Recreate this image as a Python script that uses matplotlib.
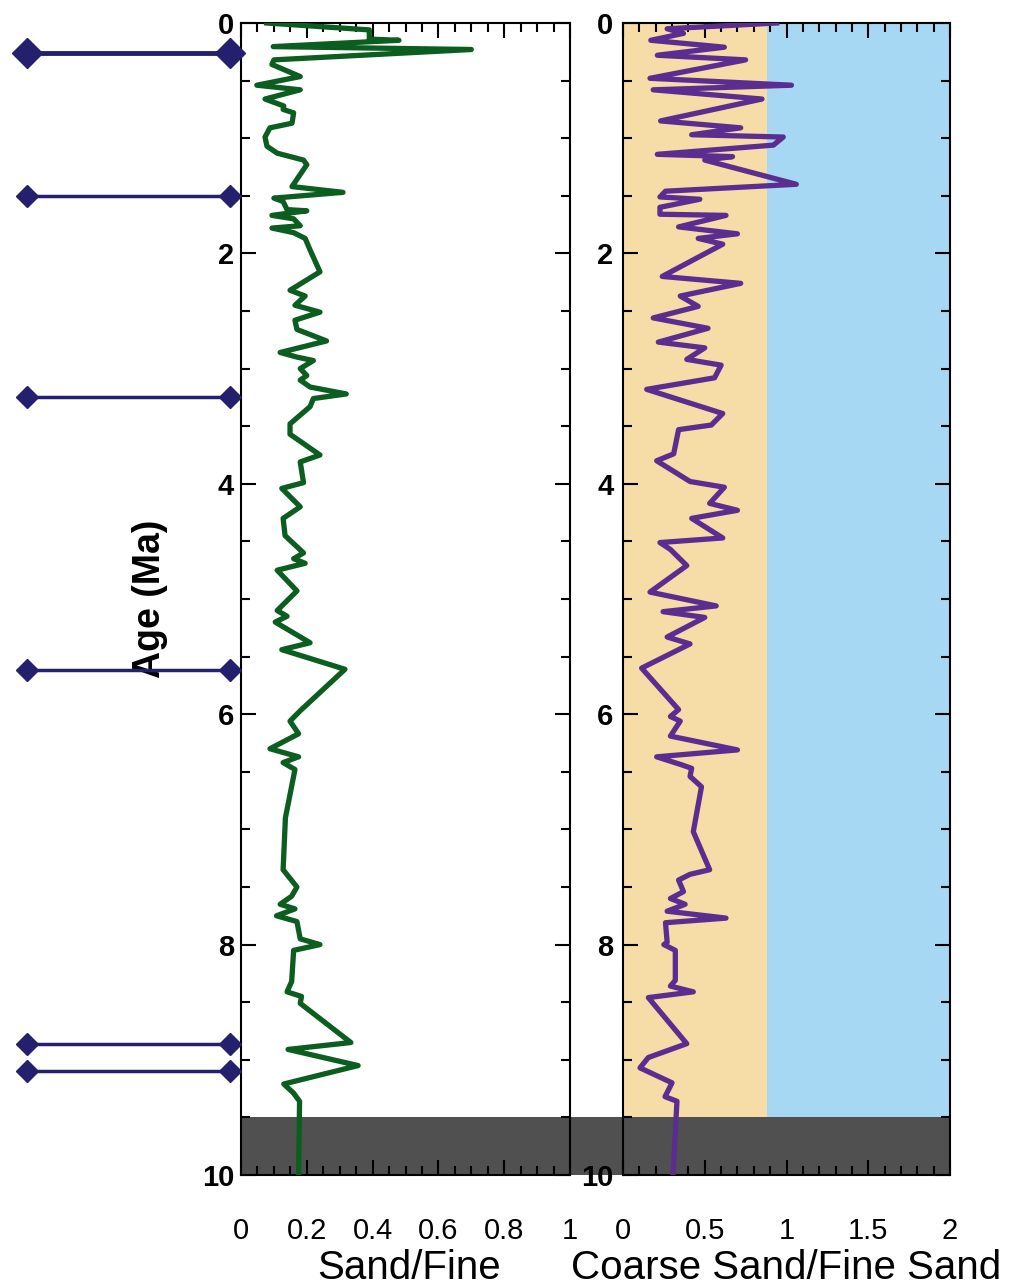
"""Sand/Fine and Coarse Sand/Fine Sand ratios against age (Ma)."""

from __future__ import annotations

import matplotlib

matplotlib.use("Agg")
import matplotlib.pyplot as plt
from matplotlib.patches import Rectangle
from matplotlib.ticker import MultipleLocator
from matplotlib.transforms import blended_transform_factory

# Sand/Fine ratio
sand_age = [
    0.00, 0.06, 0.14, 0.15, 0.205, 0.23, 0.32, 0.36, 0.465, 0.54, 0.58, 0.66,
    0.72, 0.75, 0.78, 0.87, 0.91, 0.99, 1.07, 1.13, 1.16, 1.19, 1.23, 1.42,
    1.47, 1.52, 1.55, 1.62, 1.63, 1.67, 1.70, 1.76, 1.78, 1.82, 1.87, 1.97,
    2.16, 2.32, 2.37, 2.45, 2.51, 2.58, 2.66, 2.76, 2.86, 2.90, 2.93, 3.00,
    3.06, 3.10, 3.16, 3.22, 3.26, 3.33, 3.48, 3.57, 3.75, 3.81, 3.99, 4.04,
    4.20, 4.30, 4.45, 4.60, 4.65, 4.69, 4.75, 4.93, 5.10, 5.15, 5.20, 5.38,
    5.44, 5.61, 5.97, 6.06, 6.17, 6.30, 6.37, 6.42, 6.48, 6.90, 7.35, 7.50,
    7.58, 7.65, 7.69, 7.75, 7.80, 7.95, 8.00, 8.05, 8.32, 8.41, 8.45, 8.51,
    8.85, 8.91, 9.05, 9.21, 9.29, 9.36, 10.0,
]
sand_fine = [
    0.078, 0.39, 0.39, 0.48, 0.098, 0.70, 0.10, 0.094, 0.18, 0.048, 0.18, 0.073,
    0.13, 0.128, 0.16, 0.155, 0.088, 0.073, 0.079, 0.11, 0.15, 0.19, 0.20, 0.155,
    0.31, 0.10, 0.128, 0.14, 0.20, 0.094, 0.16, 0.18, 0.094, 0.16, 0.195, 0.21,
    0.24, 0.149, 0.195, 0.164, 0.24, 0.164, 0.17, 0.26, 0.119, 0.17, 0.22, 0.18,
    0.20, 0.18, 0.21, 0.32, 0.22, 0.21, 0.149, 0.149, 0.24, 0.18, 0.19, 0.124,
    0.18, 0.128, 0.134, 0.19, 0.16, 0.195, 0.11, 0.17, 0.11, 0.14, 0.104, 0.21,
    0.124, 0.316, 0.18, 0.149, 0.175, 0.088, 0.175, 0.128, 0.164, 0.135, 0.128, 0.17,
    0.154, 0.119, 0.164, 0.108, 0.17, 0.18, 0.24, 0.16, 0.154, 0.14, 0.184, 0.18,
    0.334, 0.143, 0.356, 0.13, 0.16, 0.178, 0.175,
]

# Coarse Sand/Fine Sand ratio
coarse_age = [
    0.00, 0.05, 0.09, 0.15, 0.21, 0.28, 0.32, 0.48, 0.54, 0.58, 0.66, 0.85,
    0.91, 0.97, 0.99, 1.06, 1.14, 1.16, 1.19, 1.40, 1.46, 1.51, 1.53, 1.60,
    1.66, 1.67, 1.77, 1.83, 1.87, 1.92, 2.20, 2.26, 2.37, 2.46, 2.56, 2.65,
    2.77, 2.82, 2.92, 2.97, 3.08, 3.18, 3.39, 3.49, 3.53, 3.74, 3.80, 3.98,
    4.03, 4.17, 4.23, 4.30, 4.47, 4.51, 4.57, 4.71, 4.94, 5.06, 5.11, 5.16,
    5.33, 5.39, 5.60, 5.96, 6.02, 6.06, 6.19, 6.31, 6.37, 6.44, 6.47, 6.54,
    6.63, 7.02, 7.35, 7.39, 7.44, 7.54, 7.60, 7.65, 7.71, 7.77, 7.81, 7.98,
    8.00, 8.05, 8.31, 8.36, 8.41, 8.46, 8.86, 8.98, 9.07, 9.20, 9.32, 9.36,
    10.0,
]
coarse_fine = [
    0.94, 0.27, 0.37, 0.17, 0.62, 0.21, 0.75, 0.165, 1.03, 0.185, 0.85, 0.23,
    0.72, 0.42, 0.98, 0.92, 0.21, 0.67, 0.50, 1.06, 0.26, 0.226, 0.47, 0.226,
    0.226, 0.63, 0.34, 0.70, 0.46, 0.61, 0.24, 0.72, 0.35, 0.46, 0.185, 0.52,
    0.216, 0.50, 0.39, 0.60, 0.56, 0.145, 0.61, 0.54, 0.34, 0.31, 0.206, 0.41,
    0.62, 0.53, 0.70, 0.42, 0.61, 0.226, 0.29, 0.39, 0.165, 0.57, 0.245, 0.50,
    0.27, 0.41, 0.114, 0.34, 0.29, 0.35, 0.29, 0.70, 0.206, 0.36, 0.42, 0.41,
    0.48, 0.43, 0.53, 0.41, 0.34, 0.37, 0.29, 0.38, 0.27, 0.63, 0.26, 0.27,
    0.25, 0.32, 0.32, 0.29, 0.43, 0.155, 0.39, 0.155, 0.104, 0.30, 0.257, 0.33,
    0.306,
]

# event horizons drawn to the left of the plot (Ma); the first one is drawn heavier
event_ages = [0.26, 1.50, 3.25, 5.62, 8.86, 9.10]

coarse_split = 0.88      # boundary between the two background bands
gap_top = 9.5            # start of the grey interval at the base

left_ticks = [0, 0.2, 0.4, 0.6, 0.8, 1]
left_ticklabels = ["0", "0.2", "0.4", "0.6", "0.8", "1"]
right_ticks = [0, 0.5, 1, 1.5, 2]
right_ticklabels = ["0", "0.5", "1", "1.5", "2"]
age_ticks = [0, 2, 4, 6, 8, 10]

GREEN = "#0b5e1f"
PURPLE = "#5b2d91"
NAVY = "#25206e"
SAND = "#f6dca6"
SKY = "#a6d8f4"
GREY = "#505050"

W, H = 1017, 1287


def _style(ax, xticks, xlabels, minor, pad_y):
    ax.set_ylim(10, 0)
    ax.set_yticks(age_ticks)
    ax.set_yticklabels([str(t) for t in age_ticks], fontsize=21, fontweight="bold")
    ax.yaxis.set_minor_locator(MultipleLocator(0.5))
    ax.set_xticks(xticks)
    ax.set_xticklabels(xlabels, fontsize=21)
    ax.xaxis.set_minor_locator(MultipleLocator(minor))
    ax.tick_params(which="both", direction="in", top=True, right=True, width=1.5, color="black")
    ax.tick_params(which="major", length=11)
    ax.tick_params(which="minor", length=6.5)
    ax.tick_params(axis="x", pad=30)
    ax.tick_params(axis="y", pad=pad_y)
    for s in ax.spines.values():
        s.set_linewidth(1.5)


def main() -> None:
    plt.rcParams["font.family"] = ["Liberation Sans", "DejaVu Sans"]
    fig = plt.figure(figsize=(W / 100, H / 100), dpi=100)

    bottom = (H - 1175) / H
    height = 1152 / H
    ax1 = fig.add_axes([241 / W, bottom, 329 / W, height])
    ax2 = fig.add_axes([623 / W, bottom, 327 / W, height])
    axm = fig.add_axes([0, bottom, 241 / W, height], zorder=5)

    # left panel: Sand/Fine
    ax1.set_xlim(0, 1)
    ax1.axhspan(gap_top, 10, color=GREY, zorder=1, lw=0)
    ax1.plot(sand_fine, sand_age, color=GREEN, lw=3.8, zorder=3)
    _style(ax1, left_ticks, left_ticklabels, 0.05, 5)
    ax1.set_xlabel("Sand/Fine", fontsize=29)
    ax1.xaxis.set_label_coords(0.51, -0.064)
    ax1.set_ylabel("Age (Ma)", fontsize=27, fontweight="bold")
    ax1.yaxis.set_label_coords(-0.222, 0.5)

    # grey interval continues across the gap between the panels
    tr = blended_transform_factory(ax1.transAxes, ax1.transData)
    ax1.add_patch(Rectangle((1, gap_top), (623 - 570) / 329, 10 - gap_top, transform=tr,
                            color=GREY, lw=0, clip_on=False, zorder=1))

    # right panel: Coarse Sand/Fine Sand
    ax2.set_xlim(0, 2)
    ax2.axvspan(0, coarse_split, color=SAND, lw=0, zorder=0)
    ax2.axvspan(coarse_split, 2, color=SKY, lw=0, zorder=0)
    ax2.axhspan(gap_top, 10, color=GREY, zorder=1, lw=0)
    ax2.plot(coarse_fine, coarse_age, color=PURPLE, lw=3.8, zorder=3)
    _style(ax2, right_ticks, right_ticklabels, 0.1, 7)
    ax2.set_xlabel("Coarse Sand/Fine Sand", fontsize=29)
    ax2.xaxis.set_label_coords(0.5, -0.064)

    # event lines on the left
    axm.set_xlim(0, 1)
    axm.set_ylim(10, 0)
    axm.axis("off")
    for i, age in enumerate(event_ages):
        big = i == 0
        axm.plot([0.11, 0.955], [age, age], color=NAVY, lw=3.5 if big else 2.5,
                 marker="D", ms=15 if big else 11, clip_on=False)

    fig.savefig("out.png", dpi=100)


if __name__ == "__main__":
    main()
